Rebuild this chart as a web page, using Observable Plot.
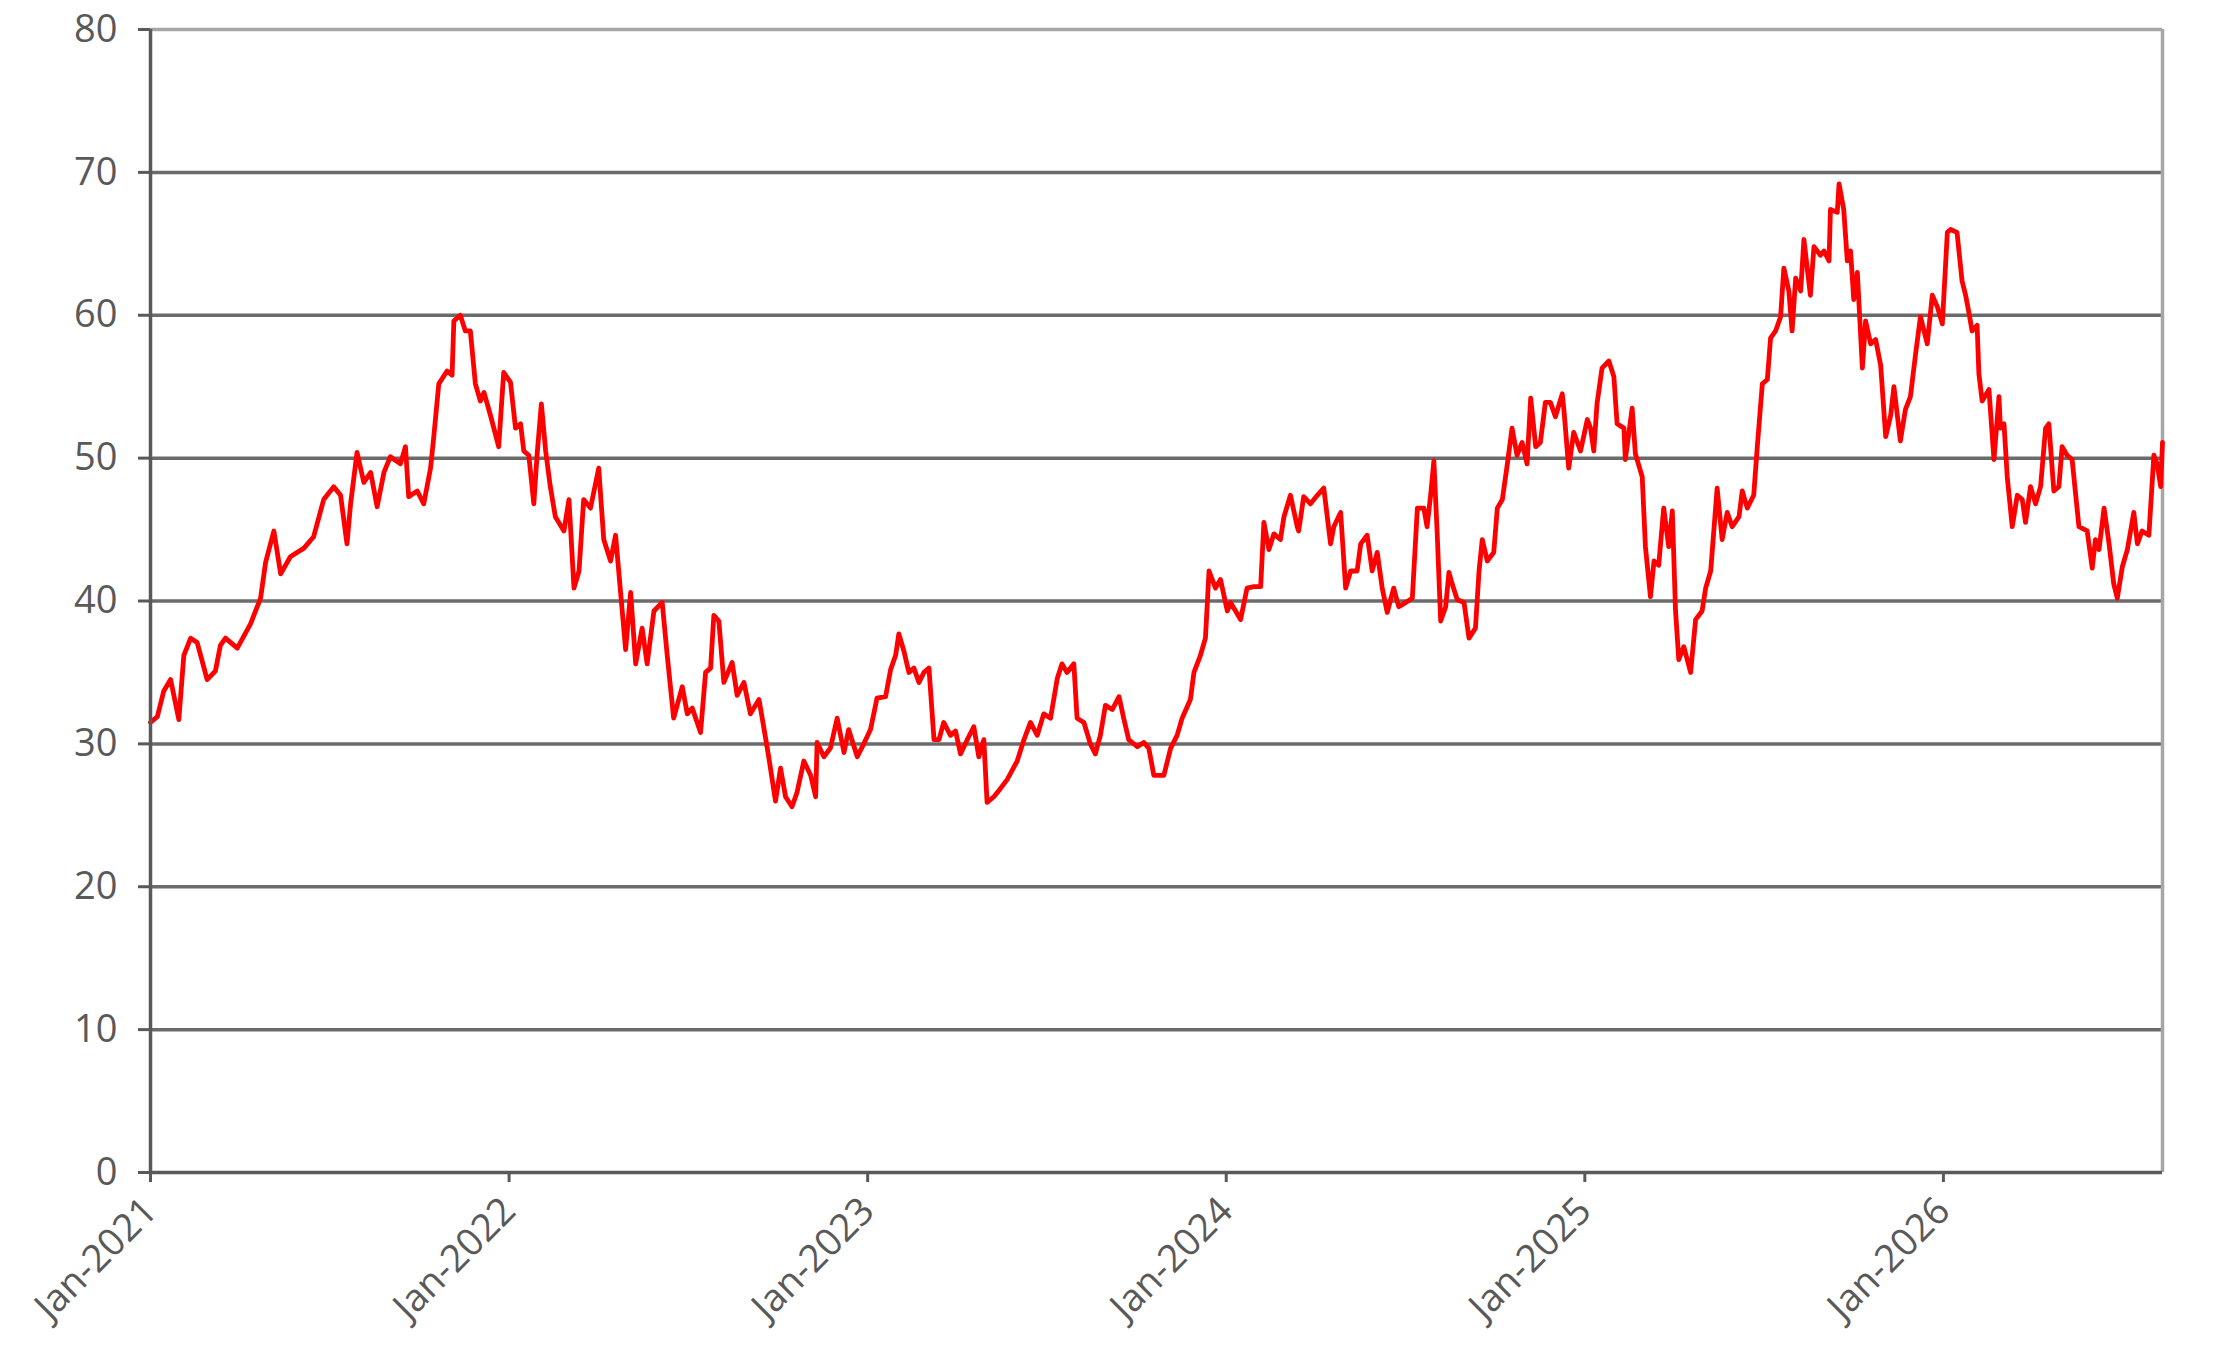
<!DOCTYPE html>
<html>
<head>
<meta charset="utf-8">
<script src="https://cdn.jsdelivr.net/npm/d3@7"></script>
<script src="https://cdn.jsdelivr.net/npm/@observablehq/plot@0.6"></script>
<style>
  html, body { margin: 0; padding: 0; background: #ffffff; }
  #chart svg { display: block; }
</style>
</head>
<body>
<div id="chart"></div>
<script>
// Time in decimal years (2021.000 = 1 Jan 2021)
const times = [
  2021.000, 2021.019, 2021.037, 2021.056, 2021.079, 2021.093, 2021.112, 2021.130, 2021.158, 2021.181,
  2021.195, 2021.209, 2021.242, 2021.279, 2021.307, 2021.321, 2021.344, 2021.363, 2021.390, 2021.428,
  2021.455, 2021.483, 2021.511, 2021.530, 2021.548, 2021.558, 2021.576, 2021.595, 2021.614, 2021.632,
  2021.651, 2021.669, 2021.697, 2021.711, 2021.720, 2021.744, 2021.762, 2021.781, 2021.790, 2021.804,
  2021.827, 2021.841, 2021.846, 2021.864, 2021.878, 2021.892, 2021.906, 2021.920, 2021.930, 2021.948,
  2021.971, 2021.985,
  2022.004, 2022.018, 2022.032, 2022.041, 2022.055, 2022.069, 2022.078, 2022.090, 2022.102, 2022.115,
  2022.129, 2022.153, 2022.167, 2022.181, 2022.195, 2022.208, 2022.227, 2022.250, 2022.264, 2022.283,
  2022.297, 2022.311, 2022.325, 2022.339, 2022.353, 2022.371, 2022.385, 2022.404, 2022.427, 2022.441,
  2022.459, 2022.483, 2022.497, 2022.511, 2022.534, 2022.548, 2022.562, 2022.571, 2022.585, 2022.599,
  2022.622, 2022.636, 2022.655, 2022.673, 2022.697, 2022.710, 2022.724, 2022.743, 2022.757, 2022.771,
  2022.789, 2022.803, 2022.822, 2022.841, 2022.855, 2022.859, 2022.878, 2022.896, 2022.915, 2022.934,
  2022.947, 2022.971, 2022.989,
  2023.008, 2023.026, 2023.050, 2023.064, 2023.078, 2023.087, 2023.101, 2023.115, 2023.129, 2023.143,
  2023.157, 2023.171, 2023.185, 2023.199, 2023.212, 2023.231, 2023.245, 2023.259, 2023.278, 2023.296,
  2023.310, 2023.324, 2023.333, 2023.352, 2023.371, 2023.389, 2023.417, 2023.436, 2023.454, 2023.473,
  2023.491, 2023.510, 2023.529, 2023.542, 2023.556, 2023.575, 2023.584, 2023.603, 2023.621, 2023.635,
  2023.649, 2023.663, 2023.682, 2023.701, 2023.714, 2023.728, 2023.752, 2023.770, 2023.784, 2023.798,
  2023.826, 2023.845, 2023.863, 2023.877, 2023.900, 2023.910, 2023.928, 2023.942, 2023.952, 2023.970,
  2023.984,
  2024.003, 2024.012, 2024.026, 2024.040, 2024.058, 2024.077, 2024.096, 2024.105, 2024.119, 2024.133,
  2024.151, 2024.161, 2024.179, 2024.198, 2024.202, 2024.216, 2024.235, 2024.254, 2024.272, 2024.291,
  2024.300, 2024.319, 2024.333, 2024.347, 2024.365, 2024.375, 2024.393, 2024.407, 2024.421, 2024.435,
  2024.449, 2024.467, 2024.481, 2024.495, 2024.519, 2024.533, 2024.551, 2024.560, 2024.570, 2024.579,
  2024.588, 2024.598, 2024.612, 2024.621, 2024.630, 2024.644, 2024.663, 2024.677, 2024.695, 2024.705,
  2024.714, 2024.728, 2024.746, 2024.756, 2024.770, 2024.784, 2024.797, 2024.811, 2024.825, 2024.839,
  2024.849, 2024.863, 2024.876, 2024.890, 2024.904, 2024.918, 2024.937, 2024.942, 2024.955, 2024.969,
  2024.988,
  2025.007, 2025.016, 2025.025, 2025.034, 2025.048, 2025.067, 2025.081, 2025.090, 2025.109, 2025.113,
  2025.132, 2025.141, 2025.160, 2025.169, 2025.183, 2025.193, 2025.206, 2025.220, 2025.234, 2025.244,
  2025.253, 2025.262, 2025.276, 2025.295, 2025.309, 2025.327, 2025.337, 2025.351, 2025.369, 2025.383,
  2025.397, 2025.411, 2025.430, 2025.439, 2025.453, 2025.471, 2025.481, 2025.495, 2025.509, 2025.518,
  2025.532, 2025.546, 2025.555, 2025.569, 2025.578, 2025.588, 2025.602, 2025.611, 2025.629, 2025.639,
  2025.657, 2025.667, 2025.681, 2025.685, 2025.704, 2025.709, 2025.722, 2025.732, 2025.741, 2025.750,
  2025.760, 2025.774, 2025.783, 2025.797, 2025.811, 2025.825, 2025.839, 2025.853, 2025.862, 2025.880,
  2025.894, 2025.908, 2025.922, 2025.936, 2025.955, 2025.969, 2025.983, 2025.997,
  2026.011, 2026.020, 2026.038, 2026.052, 2026.062, 2026.071, 2026.080, 2026.094, 2026.099, 2026.108,
  2026.127, 2026.141, 2026.155, 2026.159, 2026.169, 2026.178, 2026.192, 2026.206, 2026.220, 2026.229,
  2026.243, 2026.257, 2026.271, 2026.285, 2026.294, 2026.308, 2026.322, 2026.331, 2026.345, 2026.359,
  2026.369, 2026.378, 2026.401, 2026.415, 2026.424, 2026.434, 2026.448, 2026.462, 2026.475, 2026.485,
  2026.499, 2026.513, 2026.531, 2026.541, 2026.554, 2026.573, 2026.587, 2026.596, 2026.606, 2026.611
];

const values = [
  31.5, 31.9, 33.7, 34.5, 31.7, 36.2, 37.4, 37.1, 34.5, 35.1,
  36.9, 37.4, 36.7, 38.4, 40.2, 42.7, 44.9, 41.9, 43.1, 43.7,
  44.5, 47.1, 48.0, 47.4, 44.0, 46.8, 50.4, 48.3, 49.0, 46.6,
  49.0, 50.1, 49.6, 50.8, 47.3, 47.7, 46.8, 49.3, 51.5, 55.2,
  56.1, 55.8, 59.6, 60.0, 58.9, 58.9, 55.2, 54.0, 54.6, 53.0,
  50.8, 56.0,
  55.3, 52.1, 52.4, 50.5, 50.2, 46.8, 50.2, 53.8, 50.5, 48.0,
  45.9, 44.9, 47.1, 40.9, 42.1, 47.1, 46.5, 49.3, 44.3, 42.8,
  44.6, 40.6, 36.6, 40.6, 35.6, 38.1, 35.6, 39.3, 39.9, 36.2,
  31.8, 34.0, 32.1, 32.5, 30.8, 35.0, 35.3, 39.0, 38.6, 34.3,
  35.7, 33.4, 34.3, 32.1, 33.1, 31.2, 29.1, 26.0, 28.3, 26.3,
  25.6, 26.6, 28.8, 27.8, 26.3, 30.1, 29.1, 29.7, 31.8, 29.4,
  31.0, 29.1, 30.0,
  31.0, 33.2, 33.3, 35.2, 36.2, 37.7, 36.5, 35.0, 35.3, 34.3,
  35.0, 35.3, 30.3, 30.3, 31.5, 30.6, 30.9, 29.3, 30.3, 31.2,
  29.1, 30.3, 25.9, 26.3, 26.9, 27.5, 28.8, 30.3, 31.5, 30.6,
  32.1, 31.8, 34.6, 35.6, 35.0, 35.6, 31.8, 31.5, 30.0, 29.3,
  30.6, 32.7, 32.4, 33.3, 31.8, 30.3, 29.8, 30.1, 29.7, 27.8,
  27.8, 29.7, 30.6, 31.8, 33.1, 35.0, 36.2, 37.4, 42.1, 40.9,
  41.5,
  39.3, 39.9, 39.3, 38.7, 40.9, 41.0, 41.0, 45.5, 43.6, 44.7,
  44.3, 45.9, 47.4, 45.2, 44.9, 47.3, 46.8, 47.4, 47.9, 44.0,
  45.2, 46.2, 40.9, 42.1, 42.1, 44.0, 44.6, 42.1, 43.4, 40.9,
  39.2, 40.9, 39.6, 39.8, 40.2, 46.5, 46.5, 45.2, 47.4, 49.8,
  44.9, 38.6, 39.6, 42.0, 41.2, 40.1, 39.9, 37.4, 38.1, 42.1,
  44.3, 42.8, 43.4, 46.5, 47.1, 49.6, 52.1, 50.2, 51.1, 49.6,
  54.2, 50.8, 51.1, 53.9, 53.9, 52.9, 54.5, 53.3, 49.3, 51.8,
  50.5,
  52.7, 52.1, 50.5, 53.8, 56.3, 56.8, 55.7, 52.4, 52.1, 49.9,
  53.5, 50.3, 48.7, 43.8, 40.3, 42.8, 42.5, 46.5, 43.8, 46.3,
  39.3, 35.9, 36.8, 35.0, 38.7, 39.3, 40.9, 42.1, 47.9, 44.3,
  46.2, 45.2, 45.9, 47.7, 46.5, 47.4, 50.8, 55.2, 55.5, 58.4,
  58.9, 59.9, 63.3, 61.7, 58.9, 62.6, 61.7, 65.3, 61.4, 64.8,
  64.2, 64.5, 63.8, 67.4, 67.2, 69.2, 67.4, 63.8, 64.5, 61.1,
  63.0, 56.3, 59.6, 58.0, 58.3, 56.5, 51.5, 53.0, 55.0, 51.2,
  53.4, 54.3, 57.2, 59.9, 58.0, 61.4, 60.6, 59.4,
  65.8, 66.0, 65.8, 62.4, 61.4, 60.2, 58.9, 59.3, 55.9, 54.0,
  54.8, 49.9, 54.3, 52.1, 52.4, 48.7, 45.2, 47.4, 47.1, 45.5,
  48.0, 46.8, 48.0, 52.1, 52.4, 47.7, 48.0, 50.8, 50.2, 49.9,
  47.4, 45.2, 44.9, 42.3, 44.3, 43.6, 46.5, 44.0, 41.2, 40.2,
  42.4, 43.6, 46.2, 44.0, 44.9, 44.6, 50.2, 49.6, 48.0, 51.1
];

const xStart = 2021;
const xEnd = 2026.611;
const xTickYears = [2021, 2022, 2023, 2024, 2025, 2026];
const yTicks = [0, 10, 20, 30, 40, 50, 60, 70, 80];
const gridValues = [10, 20, 30, 40, 50, 60, 70];

const data = times.map((t, i) => ({t, v: values[i]}));

const chart = Plot.plot({
  width: 2224,
  height: 1366,
  marginLeft: 150,
  marginRight: 62,
  marginTop: 29,
  marginBottom: 194,
  style: {
    fontFamily: "'Open Sans', sans-serif",
    fontSize: "38px",
    color: "#595959",
    background: "#ffffff"
  },
  x: {type: "linear", domain: [xStart, xEnd]},
  y: {domain: [0, 80]},
  marks: [
    Plot.ruleY(gridValues, {stroke: "#6b6b6b", strokeWidth: 3.5}),
    Plot.ruleY([80], {stroke: "#a6a6a6", strokeWidth: 3.5}),
    Plot.ruleX([xEnd], {stroke: "#a6a6a6", strokeWidth: 3.5}),
    Plot.line(data, {x: "t", y: "v", stroke: "#ff0000", strokeWidth: 4.8, strokeLinejoin: "round"}),
    Plot.ruleY([0], {stroke: "#595959", strokeWidth: 3.5}),
    Plot.ruleX([xStart], {stroke: "#595959", strokeWidth: 3.5}),
    Plot.axisY({
      ticks: yTicks,
      tickSize: 12,
      tickPadding: 21,
      strokeWidth: 3,
      fontSize: 38,
      label: null
    }),
    Plot.axisX({
      ticks: xTickYears,
      tickFormat: d => "Jan-" + d,
      tickRotate: -45,
      tickSize: 10,
      tickPadding: 22,
      strokeWidth: 3,
      fontSize: 38,
      label: null
    })
  ]
});

document.getElementById("chart").appendChild(chart);
</script>
</body>
</html>
